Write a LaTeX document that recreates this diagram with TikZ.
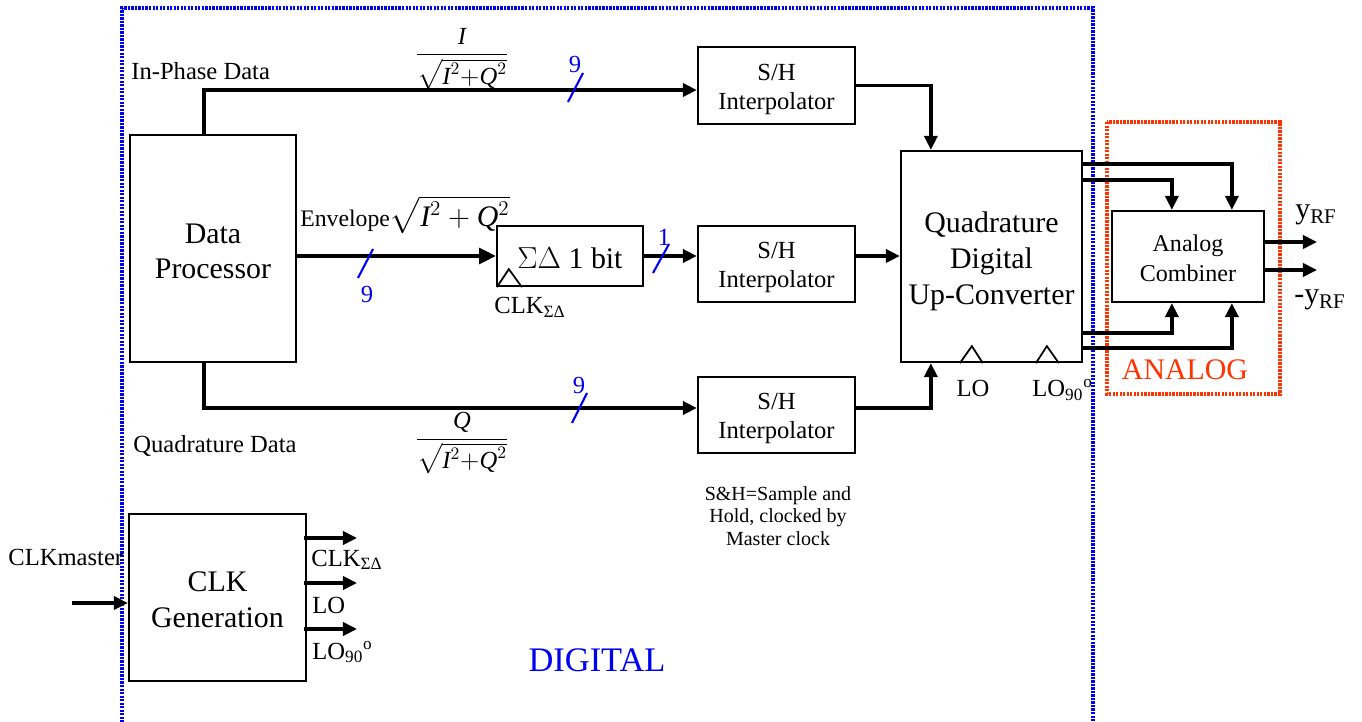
\documentclass[tikz,border=0pt]{standalone}
\usepackage{amsmath}
\usepackage{fontspec}
\setmainfont{Liberation Serif}
\usetikzlibrary{arrows.meta,calc}
\definecolor{dblue}{RGB}{0,0,240}
\definecolor{ared}{RGB}{255,51,0}
\begin{document}
\begin{tikzpicture}[x=0.02cm,y=-0.02cm,
  bx/.style n args={2}{draw,line width=1.3pt,minimum width=#1*0.02cm,minimum height=#2*0.02cm,inner sep=0pt},
  btxt/.style={inner sep=0pt,align=center},
  conn/.style={line width=1.9pt,-{Triangle[length=8pt,width=7.5pt]}},
  bigconn/.style={line width=1.9pt,-{Triangle[length=9.5pt,width=9pt]}},
  bus/.style={dblue,line width=1.2pt},
  clktri/.style={line width=1pt},
  blbl/.style={text=dblue,font=\fontsize{14}{16}\selectfont,inner sep=0pt},
  lbl/.style={font=\fontsize{14}{16}\selectfont,inner sep=0pt},
  fsmall/.style={font=\fontsize{14}{16.5}\selectfont},
  fbig/.style={font=\fontsize{17}{20.4}\selectfont},
]
\useasboundingbox (0,0) rectangle (1362,722);
% region borders
\draw[dblue,line width=2.2pt,dash pattern=on 1.3pt off 0.7pt] (122,740) -- (122,8) -- (1093,8) -- (1093,740);
\draw[ared,line width=1.8pt,dash pattern=on 1.3pt off 0.7pt] (1107,122) rectangle (1280,394);

% blocks
\node[bx={166}{227}] (dp) at (213,248.5) {};
\node[btxt,font=\fontsize{17}{19.5}\selectfont] (dpt) at ($(dp)+(0,3)$) {Data\\Processor};
\node[bx={157}{77}] (shT) at (776.5,85.5) {};
\node[btxt,fsmall] (shTt) at ($(shT)+(0,3.5)$) {S/H\\Interpolator};
\node[bx={157}{76}] (shM) at (776.5,264) {};
\node[btxt,fsmall] (shMt) at ($(shM)+(0,3.5)$) {S/H\\Interpolator};
\node[bx={157}{76}] (shB) at (776.5,415) {};
\node[btxt,fsmall] (shBt) at ($(shB)+(0,3.5)$) {S/H\\Interpolator};
\node[bx={146}{60}] (sd) at (570,256) {};
\node[btxt,font=\fontsize{17}{20}\selectfont] (sdt) at ($(sd)+(0,2)$) {$\Sigma\Delta$ 1 bit};
\node[bx={181}{211}] (qd) at (991.5,256.5) {};
\node[btxt,fbig] (qdt) at ($(qd)+(0,5)$) {Quadrature\\Digital\\Up-Converter};
\node[bx={152}{91}] (cb) at (1188,256.5) {};
\node[btxt,font=\fontsize{13.7}{17}\selectfont] (cbt) at ($(cb)+(0,2)$) {Analog\\Combiner};
\node[bx={177}{167}] (cg) at (217.5,597.5) {};
\node[btxt,fbig] (cgt) at ($(cg)+(0,2)$) {CLK\\Generation};

% clock triangles
\draw[clktri] ($(sd.south west)+(1,0)$) -- ++(12,-18) -- ++(13,18);
\draw[clktri] ($(qd.south west)+(60,0)$) -- ++(12,-17) -- ++(11,17);
\draw[clktri] ($(qd.south west)+(136,0)$) -- ++(11,-17) -- ++(12,17);

% connectors
\draw[conn] ($(dp.north west)+(75,0)$) |- ($(shT.west)+(0,4.5)$);
\draw[conn] (shT.east) -| ($(qd.north west)+(31,0)$);
\draw[bigconn] (dp.east |- sd.west) -- (sd.west);
\draw[conn] (sd.east) -- (shM.west |- sd.east);
\draw[conn] (shM.east |- sd.east) -- (qd.west |- sd.east);
\draw[conn] ($(dp.south west)+(75,0)$) |- ($(shB.west)+(0,-7)$);
\draw[conn] ($(shB.east)+(0,-7)$) -| ($(qd.south west)+(31,0)$);
\draw[conn] ($(qd.north east)+(0,14)$) -| ($(cb.north west)+(121,0)$);
\draw[conn] ($(qd.north east)+(0,30)$) -| ($(cb.north west)+(61,0)$);
\draw[conn] ($(qd.south east)+(0,-30)$) -| ($(cb.south west)+(61,0)$);
\draw[conn] ($(qd.south east)+(0,-15)$) -| ($(cb.south west)+(121,0)$);
\coordinate (o1) at (1317,242);
\coordinate (o2) at (1317,270);
\draw[conn] (cb.east |- o1) -- (o1);
\draw[conn] (cb.east |- o2) -- (o2);
\coordinate (c1) at (357,538);
\coordinate (c2) at (357,583);
\coordinate (c3) at (357,629);
\draw[conn] ($(cg.east |- c1)+(-3,0)$) -- (c1);
\draw[conn] ($(cg.east |- c2)+(-3,0)$) -- (c2);
\draw[conn] ($(cg.east |- c3)+(-3,0)$) -- (c3);
\coordinate (cm) at (72,603);
\draw[conn] (cm) -- (cg.west |- cm);

% bus width marks
\draw[bus] (568,102) -- (583,73);
\draw[bus] (358,278) -- (373,249);
\draw[bus] (653,273) -- (669,244);
\draw[bus] (572,423) -- (587,393);
\node[blbl] (n9a) at (575,64) {9};
\node[blbl] (n9b) at (367,294) {9};
\node[blbl] (n1) at (664,237) {1};
\node[blbl] (n9c) at (579,385) {9};

% labels
\node[lbl,anchor=west] (ipd) at (131,71) {In-Phase Data};
\node[lbl,anchor=west] (qdd) at (133,446) {Quadrature Data};
\node[inner sep=0pt,font=\fontsize{14}{16}\selectfont] (fI) at (462,59) {$\dfrac{\textit{I}}{\sqrt{\textit{I}^2{+}\textit{Q}^2}}$};
\node[inner sep=0pt,font=\fontsize{14}{16}\selectfont] (fQ) at (462,443) {$\dfrac{\textit{Q}}{\sqrt{\textit{I}^2{+}\textit{Q}^2}}$};
\node[inner sep=0pt,anchor=base west] (env) at (300,227) {{\fontsize{13.5}{15}\selectfont Envelope}{\fontsize{17}{19}\selectfont$\sqrt{\textit{I}^2+\textit{Q}^2}$}};
\node[lbl,anchor=base west] (clksd) at (494,314) {CLK\textsubscript{ΣΔ}};
\node[lbl,anchor=base] (lo) at (973,397) {LO};
\node[lbl,anchor=base west] (lo90) at (1032,397) {LO\textsubscript{90}\textsuperscript{o}};
\node[inner sep=0pt,text=ared,font=\fontsize{17}{20}\selectfont] (analog) at (1185,370) {ANALOG};
\node[inner sep=0pt,text=dblue,font=\fontsize{19.6}{22}\selectfont] (digital) at (597,660) {DIGITAL};
\node[inner sep=0pt,font=\fontsize{17}{20}\selectfont] (yrf) at (1316,215) {y\textsubscript{RF}};
\node[inner sep=0pt,font=\fontsize{17}{20}\selectfont] (nyrf) at (1320,300) {-y\textsubscript{RF}};
\node[lbl,anchor=base west] (g1) at (311,566) {CLK\textsubscript{ΣΔ}};
\node[lbl,anchor=base west] (g2) at (312,613) {LO};
\node[lbl,anchor=base west] (g3) at (312,659) {LO\textsubscript{90}\textsuperscript{o}};
\node[lbl,anchor=base west] (clkm) at (8,565) {CLKmaster};
\node[inner sep=0pt,align=center,font=\fontsize{11.4}{13}\selectfont] (note) at (778,516) {S\&H=Sample and\\Hold, clocked by\\Master clock};
\end{tikzpicture}
\end{document}
